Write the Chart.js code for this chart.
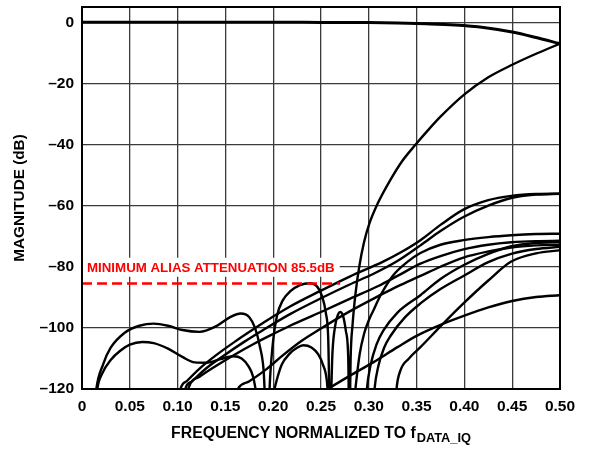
<!DOCTYPE html>
<html>
<head>
<meta charset="utf-8">
<script src="https://cdn.jsdelivr.net/npm/chart.js@4.4.1/dist/chart.umd.min.js"></script>
<style>
  html, body { margin: 0; padding: 0; background: #fff; }
  #wrap { width: 593px; height: 449px; }
</style>
</head>
<body>
<div id="wrap"><canvas id="chart" width="593" height="449"></canvas></div>
<script>
// axis ticks
const X_TICKS = [0, 0.05, 0.1, 0.15, 0.2, 0.25, 0.3, 0.35, 0.4, 0.45, 0.5];
const X_TICK_LABELS = ['0', '0.05', '0.10', '0.15', '0.20', '0.25', '0.30', '0.35', '0.40', '0.45', '0.50'];
const Y_TICKS = [-120, -100, -80, -60, -40, -20, 0];
const Y_TICK_LABELS = ['\u2013120', '\u2013100', '\u201380', '\u201360', '\u201340', '\u201320', '0'];

// passband
const passF = [0, 0.1, 0.2, 0.25, 0.3, 0.33, 0.36, 0.39, 0.42, 0.45, 0.475, 0.5];
const passM = [0, 0, 0, -0.05, -0.1, -0.25, -0.5, -0.9, -1.7, -3.2, -5, -7];

// stopband ripple -> nulls -> transition image
const mainF = [0.012, 0.015, 0.022, 0.03, 0.045, 0.06, 0.075, 0.09, 0.105, 0.123, 0.14, 0.155, 0.166, 0.175, 0.181, 0.186, 0.19, 0.1935,
  0.197, 0.2, 0.204, 0.21, 0.218, 0.228, 0.238, 0.246, 0.251, 0.255, 0.2575, 0.2595,
  0.262, 0.265, 0.268, 0.27, 0.273, 0.276, 0.2785, 0.2797,
  0.281, 0.283, 0.286, 0.29, 0.295, 0.301, 0.309, 0.322, 0.335, 0.349, 0.362, 0.375, 0.4, 0.425, 0.45, 0.475, 0.5];
const mainM = [-130, -120, -112, -106.5, -101.5, -99.3, -98.6, -99.3, -100.7, -101.3, -99.5, -96.5, -95.3, -96.5, -100, -106, -114, -135,
  -115, -104, -96, -91, -88, -86, -85.4, -86.5, -89.5, -95, -103, -130,
  -108, -99, -95.5, -94.8, -96, -101, -110, -135,
  -110, -99, -89, -80, -72, -65.5, -59.5, -51.9, -45.4, -40, -35.3, -30.9, -23.6, -18, -13.9, -10.3, -7];

// lower ripple -> dome
const lowF = [0.013, 0.016, 0.021, 0.03, 0.04, 0.05, 0.063, 0.075, 0.09, 0.105, 0.118, 0.13, 0.145, 0.158, 0.167, 0.174, 0.179, 0.184,
  0.19, 0.2, 0.2036, 0.209, 0.217, 0.225, 0.2315, 0.24, 0.247, 0.252, 0.256, 0.258];
const lowM = [-130, -120, -115, -110.5, -107.5, -105.5, -104.6, -105, -106.8, -109.5, -111.3, -111.4, -110.2, -109.3, -110, -112.5, -116, -125,
  -140, -122, -117.2, -112, -108.5, -106.5, -105.7, -106.4, -108.6, -112, -117, -125];

// rising alias images
const g89F = [0.245, 0.257, 0.28, 0.305, 0.33, 0.35, 0.375, 0.4, 0.425, 0.45, 0.475, 0.5];
const g89M = [-122.3, -120, -115.7, -111.2, -106.3, -102.6, -99, -96, -93.3, -91.2, -89.9, -89.3];

const u1F = [0.1, 0.103, 0.11, 0.123, 0.14, 0.16, 0.18, 0.2, 0.2176, 0.25, 0.28, 0.315, 0.335, 0.354, 0.375, 0.399, 0.425, 0.449, 0.475, 0.5];
const u1M = [-126, -120, -117.3, -113.3, -109, -104.5, -100.3, -96.3, -93, -87.8, -83.2, -78.3, -75, -71.3, -66.3, -61.3, -58.2, -56.8, -56.2, -56.1];

const u2F = [0.105, 0.108, 0.115, 0.13, 0.15, 0.17, 0.19, 0.2176, 0.25, 0.28, 0.305, 0.329, 0.354, 0.375, 0.399, 0.425, 0.449, 0.475, 0.5];
const u2M = [-126, -120, -117.5, -113.2, -108.7, -104.5, -100.6, -95.5, -90.3, -85.8, -82.3, -78.3, -73, -68.3, -63.7, -60, -57.5, -56.4, -56.1];

const t3F = [0.108, 0.111, 0.123, 0.14, 0.16, 0.18, 0.2, 0.2176, 0.25, 0.28, 0.31, 0.33, 0.354, 0.375, 0.399, 0.425, 0.449, 0.475, 0.5];
const t3M = [-126, -120, -116, -112.5, -108.7, -105.2, -102, -99.3, -94.8, -90.5, -86.3, -83, -79, -76.5, -74.3, -72.8, -72, -71.6, -71.5];

const l163F = [0.16, 0.163, 0.175, 0.193, 0.21, 0.228, 0.25, 0.28, 0.31, 0.33, 0.354, 0.375, 0.399, 0.425, 0.449, 0.475, 0.5];
const l163M = [-123, -120, -117.5, -113.5, -109, -104.6, -100.2, -94.6, -89.6, -86.4, -83, -80, -77, -75, -73.7, -73, -72.8];

const l1F = [0.283, 0.286, 0.2905, 0.295, 0.3, 0.306, 0.312, 0.325, 0.34, 0.354, 0.375, 0.399, 0.425, 0.449, 0.475, 0.5];
const l1M = [-130, -120, -108.5, -102, -97.5, -93.5, -89.5, -83, -78.5, -75.5, -72.8, -71.3, -70.3, -69.7, -69.3, -69.2];

const s1F = [0.296, 0.298, 0.302, 0.308, 0.315, 0.33, 0.354, 0.375, 0.399, 0.425, 0.449, 0.475, 0.5];
const s1M = [-130, -120, -112, -105.5, -101, -95, -89.3, -84, -79.5, -75.8, -73.3, -72.2, -71.9];

const s2F = [0.304, 0.306, 0.31, 0.316, 0.323, 0.338, 0.354, 0.375, 0.399, 0.425, 0.449, 0.475, 0.5];
const s2M = [-130, -120, -112.5, -106.5, -102.5, -96.5, -92, -87.3, -83, -78.5, -75.8, -74.2, -73.5];

const s3F = [0.327, 0.329, 0.333, 0.342, 0.354, 0.375, 0.399, 0.425, 0.449, 0.475, 0.5];
const s3M = [-130, -120, -114, -110, -106.3, -99.5, -92, -84.5, -78.3, -75.6, -74.6];

// minimum alias attenuation marker
const limitF = [0, 0.27];
const limitM = [-85.5, -85.5];
const LIMIT_LABEL = 'MINIMUM ALIAS ATTENUATION 85.5dB';

const FONT = "'Liberation Sans', Arial, sans-serif";
const GRID = '#3a3a3a';

function pts(f, m) {
    return f.map((x, i) => ({ x: x, y: m[i] }));
}

function curve(f, m, width) {
    return {
        data: pts(f, m),
        borderColor: '#000',
        borderWidth: width || 2.4,
        pointRadius: 0,
        fill: false,
        clip: 0,
        cubicInterpolationMode: 'monotone'
    };
}

const datasets = [
    {
        data: pts(limitF, limitM),
        borderColor: '#ff0000',
        borderWidth: 2.6,
        borderDash: [10, 5],
        pointRadius: 0,
        fill: false,
        clip: 0
    },
    curve(passF, passM, 3),
    curve(mainF, mainM),
    curve(lowF, lowM),
    curve(g89F, g89M),
    curve(u1F, u1M),
    curve(u2F, u2M),
    curve(t3F, t3M),
    curve(l163F, l163M),
    curve(l1F, l1M),
    curve(s1F, s1M),
    curve(s2F, s2M),
    curve(s3F, s3M)
];

// label box, frame and axis titles
const decorations = {
    id: 'decorations',
    beforeDatasetsDraw(chart) {
        const { ctx, chartArea, scales } = chart;
        const yMid = scales.y.getPixelForValue(-80);
        ctx.save();
        ctx.font = 'bold 13.3px ' + FONT;
        const w = ctx.measureText(LIMIT_LABEL).width;
        const x0 = chartArea.left + 5;
        ctx.fillStyle = '#fff';
        ctx.fillRect(chartArea.left + 1, yMid - 9, x0 + w + 4 - chartArea.left, 19);
        ctx.fillStyle = '#ff0000';
        ctx.textBaseline = 'alphabetic';
        ctx.fillText(LIMIT_LABEL, x0, yMid + 5);
        ctx.restore();
    },
    afterDraw(chart) {
        const { ctx, chartArea } = chart;
        ctx.save();
        ctx.strokeStyle = '#000';
        ctx.lineWidth = 2;
        ctx.strokeRect(chartArea.left, chartArea.top, chartArea.right - chartArea.left, chartArea.bottom - chartArea.top);

        // x title with subscript
        const main = 'FREQUENCY NORMALIZED TO f';
        const sub = 'DATA_IQ';
        ctx.fillStyle = '#000';
        ctx.font = 'bold 15.8px ' + FONT;
        const wMain = ctx.measureText(main).width;
        ctx.font = 'bold 12.8px ' + FONT;
        const wSub = ctx.measureText(sub).width;
        const cx = (chartArea.left + chartArea.right) / 2;
        const start = cx - (wMain + wSub + 1) / 2;
        ctx.textBaseline = 'alphabetic';
        ctx.font = 'bold 15.8px ' + FONT;
        ctx.fillText(main, start, 438);
        ctx.font = 'bold 12.8px ' + FONT;
        ctx.fillText(sub, start + wMain + 1, 442);

        // y title
        ctx.translate(23.5, (chartArea.top + chartArea.bottom) / 2);
        ctx.rotate(-Math.PI / 2);
        ctx.font = 'bold 15.3px ' + FONT;
        ctx.textAlign = 'center';
        ctx.fillText('MAGNITUDE (dB)', 0, 0);
        ctx.restore();
    }
};

const tickFont = { family: FONT, size: 15.5, weight: 'bold' };

new Chart(document.getElementById('chart'), {
    type: 'line',
    data: { datasets: datasets },
    options: {
        responsive: false,
        animation: false,
        layout: { padding: { top: 7, right: 33, left: 0, bottom: 0 } },
        plugins: {
            legend: { display: false },
            tooltip: { enabled: false }
        },
        scales: {
            x: {
                type: 'linear',
                min: 0,
                max: 0.5,
                afterBuildTicks: function(scale) {
                    scale.ticks = X_TICKS.map(v => ({ value: v }));
                },
                afterFit: function(scale) {
                    scale.height = 60;
                    scale.paddingLeft = 0;
                    scale.paddingRight = 0;
                },
                ticks: {
                    autoSkip: false,
                    maxRotation: 0,
                    padding: 8,
                    color: '#000',
                    font: tickFont,
                    callback: function(value, index) {
                        return X_TICK_LABELS[index];
                    }
                },
                grid: { color: GRID, lineWidth: 1.3, drawTicks: false },
                border: { display: false }
            },
            y: {
                type: 'linear',
                min: -120,
                max: 5,
                afterBuildTicks: function(scale) {
                    scale.ticks = Y_TICKS.map(v => ({ value: v }));
                },
                afterFit: function(scale) {
                    scale.width = 82;
                    scale.paddingTop = 0;
                    scale.paddingBottom = 0;
                },
                ticks: {
                    autoSkip: false,
                    padding: 8,
                    color: '#000',
                    font: tickFont,
                    callback: function(value, index) {
                        return Y_TICK_LABELS[index];
                    }
                },
                grid: { color: GRID, lineWidth: 1.3, drawTicks: false },
                border: { display: false }
            }
        }
    },
    plugins: [decorations]
});
</script>
</body>
</html>
